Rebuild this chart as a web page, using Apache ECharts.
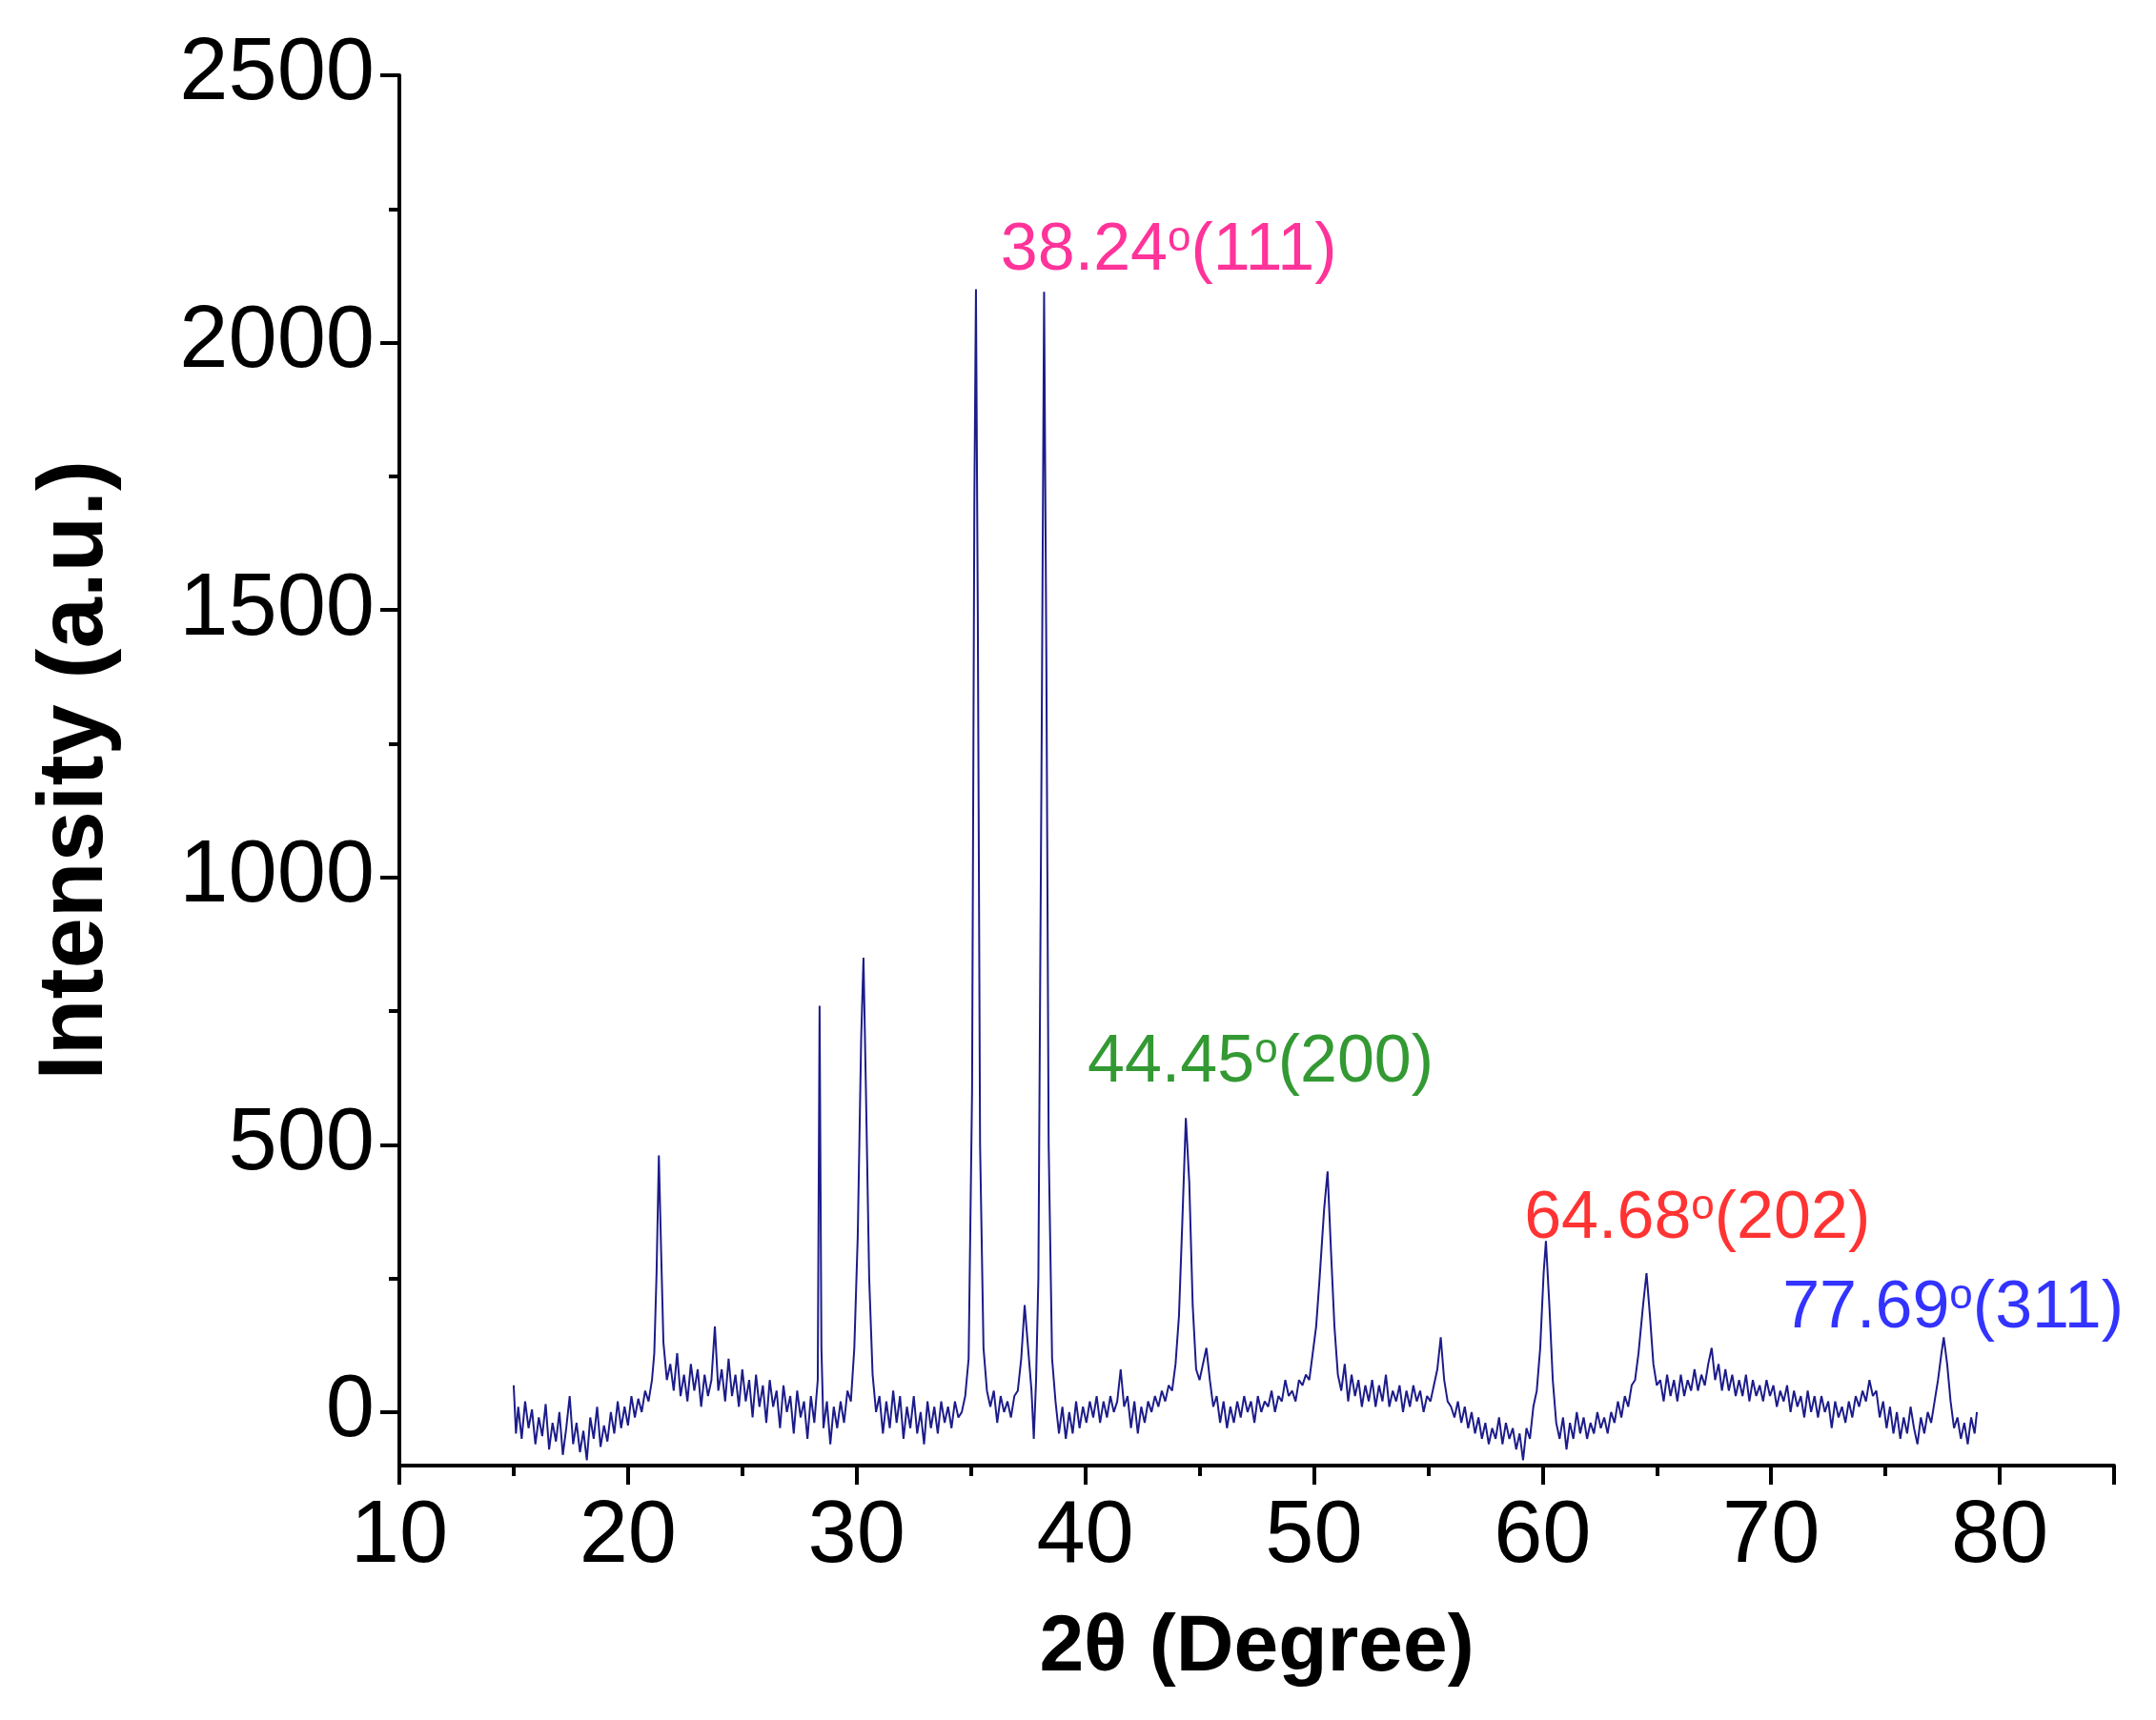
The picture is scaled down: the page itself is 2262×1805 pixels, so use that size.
<!DOCTYPE html>
<html>
<head>
<meta charset="utf-8">
<script src="https://cdn.jsdelivr.net/npm/echarts@6/dist/echarts.min.js"></script>
<style>html,body{margin:0;background:#fff}#main{width:2262px;height:1805px}</style>
</head>
<body>
<div id="main"></div>
<script>
// XRD pattern: [2theta, intensity]
var pattern = [
[15.0,50],[15.1,-40],[15.2,10],[15.35,-50],[15.5,20],[15.65,-30],[15.8,5],[15.95,-60],[16.1,-10],[16.25,-45],[16.4,15],[16.55,-70],[16.7,-20],[16.85,-55],[17.0,0],[17.15,-80],[17.3,-30],[17.45,30],[17.6,-60],[17.75,-20],[17.9,-75],[18.05,-35],[18.2,-90],[18.35,-10],[18.5,-50],[18.65,10],[18.8,-65],[18.95,-25],[19.1,-55],[19.25,0],[19.4,-40],[19.55,20],[19.7,-30],[19.85,10],[20.0,-25],[20.15,30],[20.3,-10],[20.45,25],[20.6,0],[20.75,40],[20.9,20],[21.05,60],[21.15,110],[21.25,260],[21.35,480],[21.45,300],[21.55,130],[21.7,60],[21.85,90],[22.0,40],[22.15,110],[22.3,30],[22.45,70],[22.6,20],[22.75,90],[22.9,40],[23.05,80],[23.2,10],[23.35,70],[23.5,30],[23.65,60],[23.8,160],[23.95,40],[24.1,80],[24.25,20],[24.4,100],[24.55,30],[24.7,70],[24.85,10],[25.0,80],[25.15,20],[25.3,60],[25.45,-10],[25.6,70],[25.75,10],[25.9,50],[26.05,-20],[26.2,60],[26.35,10],[26.5,40],[26.65,-30],[26.8,50],[26.95,0],[27.1,30],[27.25,-40],[27.4,40],[27.55,-10],[27.7,20],[27.85,-50],[28.0,30],[28.15,-20],[28.3,60],[28.38,760],[28.46,120],[28.55,-30],[28.7,20],[28.85,-60],[29.0,10],[29.15,-30],[29.3,20],[29.45,-20],[29.6,40],[29.75,20],[29.9,120],[30.05,330],[30.2,700],[30.3,850],[30.4,620],[30.55,250],[30.7,70],[30.85,0],[31.0,30],[31.15,-40],[31.3,20],[31.45,-30],[31.6,40],[31.75,-20],[31.9,30],[32.05,-50],[32.2,10],[32.35,-30],[32.5,30],[32.65,-40],[32.8,0],[32.95,-60],[33.1,20],[33.25,-30],[33.4,10],[33.55,-40],[33.7,20],[33.85,-20],[34.0,10],[34.15,-30],[34.3,20],[34.45,-10],[34.6,0],[34.75,30],[34.9,100],[35.05,600],[35.15,1700],[35.22,2100],[35.3,1500],[35.4,500],[35.55,120],[35.7,40],[35.85,10],[36.0,40],[36.15,-20],[36.3,30],[36.45,0],[36.6,20],[36.75,-10],[36.9,30],[37.05,40],[37.2,100],[37.35,200],[37.5,120],[37.65,40],[37.75,-50],[37.85,60],[37.95,250],[38.1,1300],[38.2,2095],[38.3,1400],[38.4,500],[38.55,100],[38.7,20],[38.85,-40],[39.0,10],[39.15,-50],[39.3,0],[39.45,-40],[39.6,20],[39.75,-30],[39.9,10],[40.05,-20],[40.2,20],[40.35,-10],[40.5,30],[40.65,-20],[40.8,20],[40.95,-10],[41.1,30],[41.25,0],[41.4,20],[41.55,80],[41.7,10],[41.85,30],[42.0,-30],[42.15,20],[42.3,-40],[42.45,10],[42.6,-20],[42.75,20],[42.9,0],[43.05,30],[43.2,10],[43.35,40],[43.5,20],[43.65,50],[43.8,40],[43.95,90],[44.1,180],[44.25,360],[44.4,550],[44.55,430],[44.7,200],[44.85,80],[45.0,60],[45.15,90],[45.3,120],[45.45,60],[45.6,10],[45.75,30],[45.9,-20],[46.05,20],[46.2,-30],[46.35,10],[46.5,-20],[46.65,20],[46.8,-10],[46.95,30],[47.1,0],[47.25,20],[47.4,-20],[47.55,30],[47.7,0],[47.85,20],[48.0,10],[48.15,40],[48.3,0],[48.45,30],[48.6,20],[48.75,60],[48.9,30],[49.05,40],[49.2,20],[49.35,60],[49.5,50],[49.65,70],[49.8,60],[49.95,110],[50.1,160],[50.25,250],[50.45,380],[50.6,450],[50.75,300],[50.9,160],[51.05,70],[51.2,40],[51.35,90],[51.5,20],[51.65,70],[51.8,30],[51.95,60],[52.1,10],[52.25,50],[52.4,20],[52.55,60],[52.7,10],[52.85,50],[53.0,20],[53.15,70],[53.3,10],[53.45,40],[53.6,20],[53.75,50],[53.9,0],[54.05,40],[54.2,10],[54.35,50],[54.5,20],[54.65,40],[54.8,0],[54.95,30],[55.1,20],[55.25,50],[55.4,80],[55.55,140],[55.7,60],[55.85,20],[56.0,10],[56.15,-10],[56.3,20],[56.45,-20],[56.6,10],[56.75,-30],[56.9,0],[57.05,-40],[57.2,-10],[57.35,-50],[57.5,-20],[57.65,-60],[57.8,-30],[57.95,-50],[58.1,-10],[58.25,-60],[58.4,-20],[58.55,-50],[58.7,-30],[58.85,-70],[59.0,-40],[59.15,-90],[59.3,-30],[59.45,-50],[59.6,10],[59.75,40],[59.9,120],[60.05,260],[60.15,320],[60.3,200],[60.45,60],[60.6,-20],[60.75,-50],[60.9,-10],[61.05,-70],[61.2,-20],[61.35,-50],[61.5,0],[61.65,-40],[61.8,-10],[61.95,-50],[62.1,-20],[62.25,-40],[62.4,0],[62.55,-30],[62.7,-10],[62.85,-40],[63.0,0],[63.15,-20],[63.3,20],[63.45,-10],[63.6,30],[63.75,10],[63.9,50],[64.05,60],[64.2,110],[64.4,200],[64.55,260],[64.7,180],[64.85,90],[65.0,50],[65.15,60],[65.3,20],[65.45,70],[65.6,30],[65.75,60],[65.9,20],[66.05,70],[66.2,30],[66.35,60],[66.5,40],[66.65,80],[66.8,40],[66.95,70],[67.1,50],[67.25,90],[67.4,120],[67.55,60],[67.7,90],[67.85,40],[68.0,80],[68.15,40],[68.3,70],[68.45,30],[68.6,60],[68.75,30],[68.9,70],[69.05,20],[69.2,60],[69.35,30],[69.5,50],[69.65,20],[69.8,60],[69.95,30],[70.1,50],[70.25,10],[70.4,40],[70.55,20],[70.7,50],[70.85,0],[71.0,40],[71.15,10],[71.3,30],[71.45,-10],[71.6,40],[71.75,0],[71.9,30],[72.05,-10],[72.2,30],[72.35,0],[72.5,20],[72.65,-30],[72.8,20],[72.95,-10],[73.1,10],[73.25,-20],[73.4,20],[73.55,-10],[73.7,30],[73.85,10],[74.0,40],[74.15,20],[74.3,60],[74.45,30],[74.6,40],[74.75,-10],[74.9,20],[75.05,-30],[75.2,10],[75.35,-40],[75.5,0],[75.65,-50],[75.8,-10],[75.95,-40],[76.1,10],[76.25,-30],[76.4,-60],[76.55,-10],[76.7,-40],[76.85,0],[77.0,-20],[77.15,20],[77.3,60],[77.45,110],[77.55,140],[77.7,90],[77.85,20],[78.0,-30],[78.15,-10],[78.3,-50],[78.45,-20],[78.6,-60],[78.75,-10],[78.9,-40],[79.0,0]
];

var peakLabels = ['38.24', '44.45', '64.68', '77.69'];
var peakPlanes = ['(111)', '(200)', '(202)', '(311)'];
var labelAt = [[36.3, 2170], [40.1, 652], [59.2, 360], [70.5, 192]];
var labelColors = ['#ff007f', '#008000', '#ff0000', '#0000ff'];

var yMajor = [0, 500, 1000, 1500, 2000, 2500];
var yMinor = [250, 750, 1250, 1750, 2250];

var annot = peakLabels.map(function (t, i) {
    var c = labelColors[i];
    return {
        value: labelAt[i],
        label: {
            show: true, position: 'right', distance: 0,
            formatter: '{a|' + t + '}{s|o}{a|' + peakPlanes[i] + '}',
            rich: {
                a: {fontSize: 70, color: c, fontFamily: 'Arial, Liberation Sans'},
                s: {fontSize: 44, color: c, verticalAlign: 'top', padding: [0, 0, 26, 0], fontFamily: 'Arial, Liberation Sans'}
            }
        }
    };
});

var myChart = echarts.init(document.getElementById('main'));
var axisFont = {fontSize: 92, color: '#000', fontFamily: 'Arial, Liberation Sans'};
option = {
    animation: false,
    grid: {left: 419, right: 44, top: 79, bottom: 267},
    xAxis: {
        type: 'value', min: 10, max: 85, interval: 10,
        name: '2θ (Degree)', nameLocation: 'middle', nameGap: 150,
        nameTextStyle: {fontSize: 84, fontWeight: 'bold', color: '#000', fontFamily: 'Arial, Liberation Sans'},
        axisLine: {onZero: false, lineStyle: {color: '#000', width: 4}},
        axisTick: {inside: false, length: 20, lineStyle: {width: 4}},
        minorTick: {show: true, splitNumber: 2, length: 11, lineStyle: {color: '#000', width: 4}},
        axisLabel: Object.assign({margin: 30, showMaxLabel: false}, axisFont),
        splitLine: {show: false}
    },
    yAxis: [{
        type: 'value', min: -100, max: 2500,
        name: 'Intensity (a.u.)', nameLocation: 'middle', nameGap: 290,
        nameTextStyle: {fontSize: 96, fontWeight: 'bold', color: '#000', fontFamily: 'Arial, Liberation Sans'},
        axisLine: {show: true, lineStyle: {color: '#000', width: 4}},
        axisTick: {show: true, length: 20, customValues: yMajor, lineStyle: {width: 4}},
        axisLabel: Object.assign({margin: 26, customValues: yMajor, formatter: function (v) { return String(v); }}, axisFont),
        splitLine: {show: false}
    }, {
        type: 'value', min: -100, max: 2500, position: 'left',
        axisLine: {show: false},
        axisTick: {show: true, length: 11, customValues: yMinor, lineStyle: {color: '#000', width: 4}},
        axisLabel: {show: false},
        splitLine: {show: false}
    }],
    series: [{
        type: 'line', data: pattern, showSymbol: false, symbol: 'none',
        lineStyle: {color: '#1c1c8a', width: 2}
    }, {
        type: 'scatter', data: annot, symbolSize: 0, silent: true
    }]
};
myChart.setOption(option);
</script>
</body>
</html>
